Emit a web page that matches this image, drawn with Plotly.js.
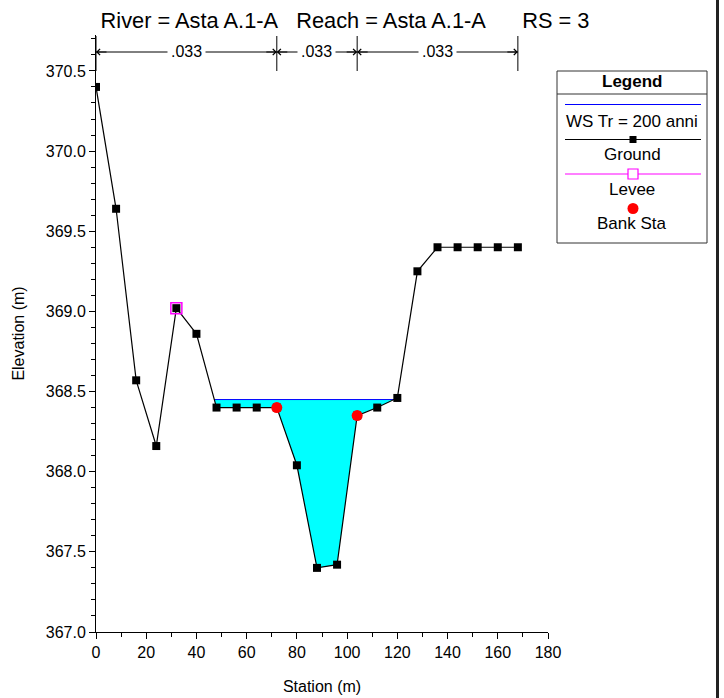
<!DOCTYPE html>
<html>
<head>
<meta charset="utf-8">
<script src="https://cdn.plot.ly/plotly-3.0.1.min.js"></script>
<style>html,body{margin:0;padding:0;background:#fff;}#chart{width:724px;height:698px;}</style>
</head>
<body>
<div id="chart"></div>
<script>
// ---- data ----
const station   = [0, 8, 16, 24, 32, 40, 48, 56, 64, 72, 80, 88, 96, 104, 112, 120, 128, 136, 144, 152, 160, 168];
const elevation = [370.40, 369.64, 368.57, 368.16, 369.02, 368.86, 368.40, 368.40, 368.40, 368.40, 368.04, 367.40, 367.42, 368.35, 368.40, 368.46, 369.25, 369.40, 369.40, 369.40, 369.40, 369.40];
const bankSta   = [72, 104];
const bankElev  = [368.40, 368.35];
const leveeSta  = [32];
const leveeElev = [369.02];
const wsElev    = 368.45;
const nBreaks   = [0, 72, 104, 168];
const nValues   = ['.033', '.033', '.033'];
const legendLabels = ['WS Tr = 200 anni', 'Ground', 'Levee', 'Bank Sta'];
const titleText = 'River = Asta A.1-A\u00a0\u00a0\u00a0Reach = Asta A.1-A\u00a0\u00a0\u00a0\u00a0\u00a0\u00a0RS = 3';

// ---- water polygon computed from ground and WS ----
function waterPolygon(xs, ys, ws) {
  let imin = 0;
  for (let i = 1; i < ys.length; i++) if (ys[i] < ys[imin]) imin = i;
  let a = imin, b = imin;
  while (a > 0 && ys[a - 1] < ws) a--;
  while (b < ys.length - 1 && ys[b + 1] < ws) b++;
  const px = [], py = [];
  let xl = xs[a], xr = xs[b];
  if (a > 0) { xl = xs[a - 1] + (xs[a] - xs[a - 1]) * (ys[a - 1] - ws) / (ys[a - 1] - ys[a]); }
  if (b < ys.length - 1) { xr = xs[b] + (xs[b + 1] - xs[b]) * (ws - ys[b]) / (ys[b + 1] - ys[b]); }
  px.push(xl); py.push(ws);
  for (let i = a; i <= b; i++) { px.push(xs[i]); py.push(ys[i]); }
  px.push(xr); py.push(ws);
  px.push(xl); py.push(ws);
  return {x: px, y: py, xl: xl, xr: xr};
}
const wp = waterPolygon(station, elevation, wsElev);

// ---- geometry helpers ----
const W = 724, H = 698, ML = 96, MR = 176, MT = 35, MB = 66;
const PW = W - ML - MR, PH = H - MT - MB;
const fx = p => (p - ML) / PW;
const fy = p => (H - MB - p) / PH;
const FONT = 'Liberation Sans, Arial, sans-serif';

const traces = [
  {x: wp.x, y: wp.y, mode: 'lines', fill: 'toself', fillcolor: '#00FFFF', line: {width: 0, color: '#00FFFF'}, hoverinfo: 'skip', showlegend: false},
  {x: [wp.xl, wp.xr], y: [wsElev, wsElev], mode: 'lines', line: {color: '#0000FF', width: 1}, name: legendLabels[0], showlegend: false},
  {x: station, y: elevation, mode: 'lines+markers', line: {color: '#000', width: 1.2}, marker: {symbol: 'square', size: 8, color: '#000'}, name: legendLabels[1], showlegend: false},
  {x: leveeSta, y: leveeElev, mode: 'markers', marker: {symbol: 'square-open', size: 11, color: '#FF00FF', line: {width: 1.5, color: '#FF00FF'}}, name: legendLabels[2], showlegend: false},
  {x: bankSta, y: bankElev, mode: 'markers', marker: {symbol: 'circle', size: 11, color: '#FF0000'}, name: legendLabels[3], showlegend: false}
];

const shapes = [];
const annotations = [];

// Manning's n breaks
const yTopN = fy(36), yBotN = fy(71), yArr = fy(52);
nBreaks.forEach(b => {
  shapes.push({type: 'line', xref: 'x', yref: 'paper', x0: b, x1: b, y0: yBotN, y1: yTopN, line: {color: '#000', width: 1}});
});
for (let i = 0; i < nValues.length; i++) {
  const a = nBreaks[i], b = nBreaks[i + 1];
  shapes.push({type: 'line', xref: 'x', yref: 'paper', x0: a, x1: b, y0: yArr, y1: yArr, line: {color: '#000', width: 1}});
  annotations.push({xref: 'x', yref: 'paper', x: a, y: yArr, ax: 12, ay: 0, text: '', showarrow: true, arrowhead: 4, arrowsize: 1.2, arrowwidth: 1, arrowcolor: '#000', standoff: 0});
  annotations.push({xref: 'x', yref: 'paper', x: b, y: yArr, ax: -12, ay: 0, text: '', showarrow: true, arrowhead: 4, arrowsize: 1.2, arrowwidth: 1, arrowcolor: '#000', standoff: 0});
}
for (let i = 0; i < nValues.length; i++) {
  const a = nBreaks[i], b = nBreaks[i + 1];
  annotations.push({xref: 'x', yref: 'paper', x: (a + b) / 2, y: yArr, xanchor: 'center', text: nValues[i], showarrow: false, bgcolor: '#fff', borderpad: 3, font: {size: 16, color: '#000', family: FONT}, yanchor: 'middle'});
}

// Custom legend (HEC-RAS style)
const lx0 = 557, lx1 = 707, ly0 = 71, ly1 = 243, lcx = 632;
shapes.push({type: 'rect', xref: 'paper', yref: 'paper', x0: fx(lx0), x1: fx(lx1), y0: fy(ly1), y1: fy(ly0), line: {color: '#333', width: 1}, fillcolor: 'rgba(0,0,0,0)'});
shapes.push({type: 'line', xref: 'paper', yref: 'paper', x0: fx(lx0), x1: fx(lx1), y0: fy(94), y1: fy(94), line: {color: '#333', width: 1}});
const legLineX0 = fx(565), legLineX1 = fx(701);
shapes.push({type: 'line', xref: 'paper', yref: 'paper', x0: legLineX0, x1: legLineX1, y0: fy(104.5), y1: fy(104.5), line: {color: '#0000FF', width: 1}});
shapes.push({type: 'line', xref: 'paper', yref: 'paper', x0: legLineX0, x1: legLineX1, y0: fy(139.5), y1: fy(139.5), line: {color: '#000', width: 1}});
shapes.push({type: 'rect', xref: 'paper', yref: 'paper', xsizemode: 'pixel', ysizemode: 'pixel', xanchor: fx(633), yanchor: fy(139.5), x0: -3.5, x1: 3.5, y0: -3.5, y1: 3.5, fillcolor: '#000', line: {width: 0}});
shapes.push({type: 'line', xref: 'paper', yref: 'paper', x0: legLineX0, x1: legLineX1, y0: fy(174), y1: fy(174), line: {color: '#FF00FF', width: 1}});
shapes.push({type: 'rect', xref: 'paper', yref: 'paper', xsizemode: 'pixel', ysizemode: 'pixel', xanchor: fx(633), yanchor: fy(174), x0: -5, x1: 5, y0: -5, y1: 5, fillcolor: '#fff', line: {width: 1.2, color: '#FF00FF'}});
shapes.push({type: 'circle', xref: 'paper', yref: 'paper', xsizemode: 'pixel', ysizemode: 'pixel', xanchor: fx(633), yanchor: fy(208.5), x0: -5.5, x1: 5.5, y0: -5.5, y1: 5.5, fillcolor: '#FF0000', line: {width: 0}});
annotations.push({xref: 'paper', yref: 'paper', x: fx(lcx), y: fy(82), xanchor: 'center', text: '<b>Legend</b>', showarrow: false, yanchor: 'middle', font: {size: 17, color: '#000', family: FONT}});
const legTextY = [122, 154, 189, 223];
legendLabels.forEach((t, i) => {
  annotations.push({xref: 'paper', yref: 'paper', x: fx(lcx), y: fy(legTextY[i]), xanchor: 'center', text: t, showarrow: false, yanchor: 'middle', font: {size: 17, color: '#000', family: FONT}});
});

// right window border
shapes.push({type: 'line', xref: 'paper', yref: 'paper', x0: fx(717.5), x1: fx(717.5), y0: fy(698), y1: fy(0), line: {color: '#222', width: 3}});

const axisCommon = {
  showgrid: false, zeroline: false, showline: true, linecolor: '#000', linewidth: 1,
  ticks: 'outside', ticklen: 6, tickwidth: 1, tickcolor: '#000',
  tickfont: {size: 16, color: '#000', family: FONT}, automargin: false
};

const layout = {
  width: W, height: H,
  margin: {l: ML, r: MR, t: MT, b: MB, pad: 0},
  paper_bgcolor: '#fff', plot_bgcolor: '#fff',
  font: {family: FONT, color: '#000'},
  showlegend: false,
  title: {text: titleText, x: 345 / W, xref: 'container', xanchor: 'center', y: 1 - 20 / H, yref: 'container', yanchor: 'middle', font: {size: 21.8, color: '#000', family: FONT}},
  xaxis: Object.assign({}, axisCommon, {
    range: [0, 180], tick0: 0, dtick: 20,
    minor: {dtick: 10, ticklen: 4, tickcolor: '#000', ticks: 'outside', showgrid: false},
    title: {text: 'Station (m)', font: {size: 16, color: '#000', family: FONT}, standoff: 20}
  }),
  yaxis: Object.assign({}, axisCommon, {
    range: [367, 370.724], tick0: 367, dtick: 0.5, tickformat: '.1f',
    minor: {dtick: 0.1, ticklen: 4, tickcolor: '#000', ticks: 'outside', showgrid: false},
    title: {text: 'Elevation (m)', font: {size: 16, color: '#000', family: FONT}, standoff: 17}
  }),
  shapes: shapes,
  annotations: annotations
};

Plotly.newPlot('chart', traces, layout, {displayModeBar: false, staticPlot: true});
</script>
</body>
</html>
